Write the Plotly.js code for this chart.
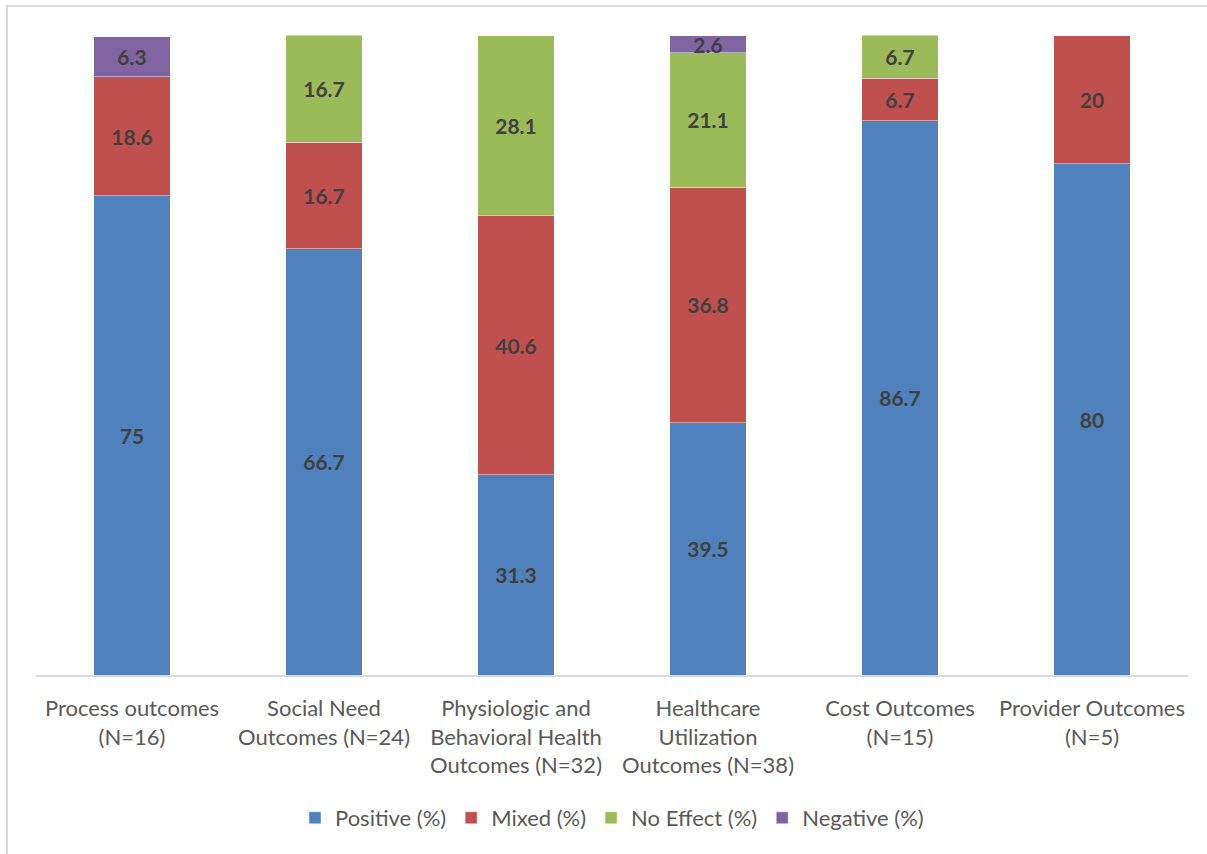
<!DOCTYPE html>
<html>
<head>
<meta charset="utf-8">
<script src="https://cdn.plot.ly/plotly-3.0.1.min.js"></script>
<style>
  html, body { margin: 0; padding: 0; background: #ffffff; }
  #wrap { position: relative; width: 1207px; height: 854px; overflow: hidden; }
  #frame { position: absolute; left: 6px; top: 5px; width: 1220px; height: 870px;
           border: 2px solid #d9d9d9; box-sizing: border-box; pointer-events: none; }
  #chart { position: absolute; left: 0; top: 0; width: 1207px; height: 854px; }
</style>
</head>
<body>
<div id="wrap">
  <div id="chart"></div>
  <div id="frame"></div>
</div>
<script>
const categories = [
  "Process outcomes<br>(N=16)",
  "Social Need<br>Outcomes (N=24)",
  "Physiologic and<br>Behavioral Health<br>Outcomes (N=32)",
  "Healthcare<br>Utilization<br>Outcomes (N=38)",
  "Cost Outcomes<br>(N=15)",
  "Provider Outcomes<br>(N=5)"
];
const positive = [75, 66.7, 31.3, 39.5, 86.7, 80];
const mixed    = [18.6, 16.7, 40.6, 36.8, 6.7, 20];
const noEffect = [null, 16.7, 28.1, 21.1, 6.7, null];
const negative = [6.3, null, null, 2.6, null, null];

const seriesNames = ["Positive (%)", "Mixed (%)", "No Effect (%)", "Negative (%)"];
const seriesValues = [positive, mixed, noEffect, negative];
const seriesColors = ["#4f81bd", "#c0504d", "#9bbb59", "#8064a2"];

const traces = seriesValues.map((vals, i) => ({
  type: "bar",
  name: seriesNames[i],
  x: categories,
  y: vals,
  text: vals.map(v => (v === null ? "" : String(v))),
  textposition: "inside",
  insidetextanchor: "middle",
  textangle: 0,
  constraintext: "none",
  cliponaxis: false,
  textfont: { family: "Lato, sans-serif", size: 21, color: "#404040", weight: "bold" },
  marker: { color: seriesColors[i], line: { color: "rgba(255,255,255,0.45)", width: 1 } },
  hoverinfo: "skip"
}));

const layout = {
  width: 1207,
  height: 854,
  barmode: "stack",
  bargap: 0.6,
  margin: { l: 36, r: 19, t: 35, b: 179, pad: 0 },
  paper_bgcolor: "#ffffff",
  plot_bgcolor: "#ffffff",
  font: { family: "Lato, sans-serif", color: "#595959", size: 22 },
  showlegend: true,
  legend: {
    orientation: "h",
    x: 0.5, xanchor: "center",
    y: -0.2234, yanchor: "middle",
    traceorder: "normal",
    font: { family: "Lato, sans-serif", size: 22, color: "#595959" },
    itemclick: false
  },
  xaxis: {
    type: "category",
    showline: true,
    linecolor: "#d9d9d9",
    linewidth: 1.5,
    ticks: "",
    showgrid: false,
    zeroline: false,
    tickfont: { family: "Lato, sans-serif", size: 22, color: "#595959" },
    tickangle: 0,
    ticklabelstandoff: 13,
    automargin: false
  },
  yaxis: {
    range: [0, 100.15],
    visible: false,
    showgrid: false,
    zeroline: false,
    fixedrange: true
  }
};

Plotly.newPlot("chart", traces, layout, { displayModeBar: false, staticPlot: true });
</script>
</body>
</html>
